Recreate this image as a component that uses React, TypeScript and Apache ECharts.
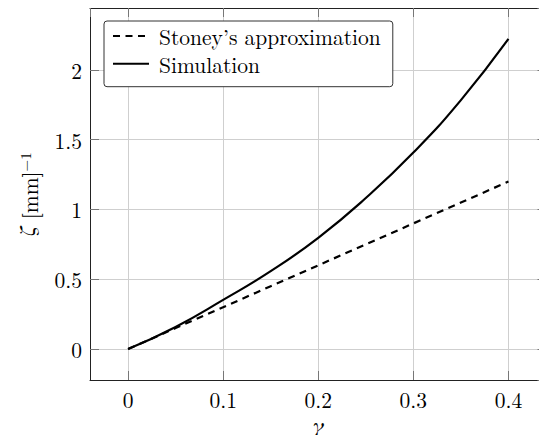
import React, { useEffect, useRef } from "react";
import * as echarts from "echarts";

const gammaValues = [0, 0.05, 0.1, 0.15, 0.2, 0.25, 0.3, 0.35, 0.4];
const stoneyValues = [0, 0.15, 0.3, 0.45, 0.6, 0.75, 0.9, 1.05, 1.2];
const simulationValues = [0, 0.158, 0.352, 0.558, 0.797, 1.082, 1.408, 1.784, 2.222];
const seriesNames = ["Stoney\u2019s approximation", "Simulation"];

const FONT = "Latin Modern Roman";
const GREEK = "FreeSerif, DejaVu Serif, serif";
const FS = 21.5;

export default function App() {
  const ref = useRef<HTMLDivElement>(null);
  useEffect(() => {
    if (!ref.current) return;
    const chart = echarts.init(ref.current, null, { renderer: "svg" });
    const frame = { show: true, onZero: false, lineStyle: { color: "#222", width: 1 } };
    const innerTicks = { show: true, inside: true, length: 9, lineStyle: { color: "#777", width: 1 } };
    const split = { show: true, lineStyle: { color: "#cfcfcf", width: 1 } };
    const labelStyle = {
      showMinLabel: false,
      showMaxLabel: false,
      margin: 8,
      fontFamily: FONT,
      fontSize: FS,
      color: "#000",
    };
    chart.setOption({
      animation: false,
      textStyle: { fontFamily: FONT, color: "#000" },
      grid: { left: 90, right: 0.5, top: 8, bottom: 54, containLabel: false },
      legend: {
        orient: "vertical",
        left: 104,
        top: 21,
        data: seriesNames,
        itemWidth: 36,
        itemHeight: 14,
        itemGap: 5.7,
        padding: [4, 12, 12, 8],
        borderColor: "#333",
        borderWidth: 1,
        borderRadius: 3,
        backgroundColor: "#fff",
        itemStyle: { color: "transparent", borderColor: "transparent", borderWidth: 0 },
        textStyle: { fontFamily: FONT, fontSize: FS, lineHeight: 21, color: "#000", padding: [0, 0, 0, 5] },
      },
      xAxis: [
        {
          type: "value",
          min: -0.04,
          max: 0.44,
          splitNumber: 5,
          name: "\u03b3",
          nameLocation: "middle",
          nameGap: 35,
          nameTextStyle: { fontFamily: GREEK, fontSize: 23, fontStyle: "italic", color: "#000" },
          axisLine: frame,
          axisTick: innerTicks,
          splitLine: split,
          axisLabel: labelStyle,
        },
        {
          type: "value",
          position: "top",
          min: -0.04,
          max: 0.44,
          splitNumber: 5,
          axisLine: frame,
          axisTick: innerTicks,
          splitLine: { show: false },
          axisLabel: { show: false },
        },
      ],
      yAxis: [
        {
          type: "value",
          min: -0.222,
          max: 2.444,
          splitNumber: 5,
          name: "{z|\u03b6} {a|[mm]}{s|\u22121}",
          nameLocation: "middle",
          nameGap: 50,
          nameRotate: 90,
          nameTextStyle: {
            fontFamily: FONT,
            fontSize: FS,
            color: "#000",
            rich: {
              z: { fontFamily: GREEK, fontSize: 23, fontStyle: "italic", color: "#000" },
              a: { fontFamily: FONT, fontSize: FS, color: "#000" },
              s: { fontFamily: FONT, fontSize: 15, color: "#000", verticalAlign: "top" },
            },
          },
          axisLine: frame,
          axisTick: innerTicks,
          splitLine: split,
          axisLabel: labelStyle,
        },
        {
          type: "value",
          position: "right",
          min: -0.222,
          max: 2.444,
          splitNumber: 5,
          axisLine: frame,
          axisTick: innerTicks,
          splitLine: { show: false },
          axisLabel: { show: false },
        },
      ],
      series: [
        {
          name: seriesNames[0],
          type: "line",
          data: gammaValues.map((g, i) => [g, stoneyValues[i]]),
          showSymbol: false,
          symbol: "none",
          lineStyle: { color: "#000", width: 2.2, type: [7, 5.5] },
          itemStyle: { color: "#000" },
        },
        {
          name: seriesNames[1],
          type: "line",
          data: gammaValues.map((g, i) => [g, simulationValues[i]]),
          smooth: true,
          showSymbol: false,
          symbol: "none",
          lineStyle: { color: "#000", width: 2.2, type: "solid" },
          itemStyle: { color: "#000" },
        },
      ],
    });
    return () => chart.dispose();
  }, []);
  return <div ref={ref} style={{ width: 547, height: 443, margin: -8 }} />;
}
